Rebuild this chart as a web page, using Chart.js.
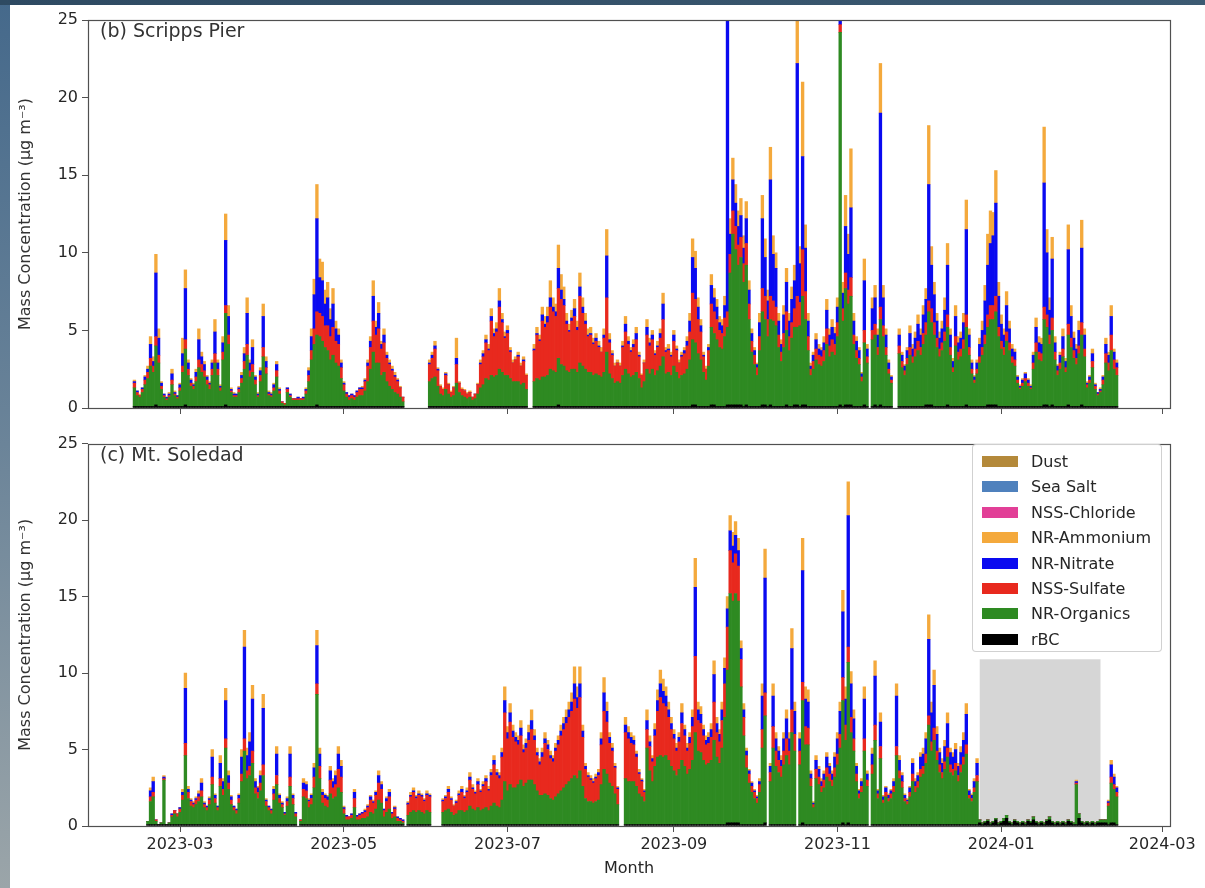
<!DOCTYPE html>
<html>
<head>
<meta charset="utf-8">
<title>PM1 composition – Scripps Pier and Mt. Soledad</title>
<script src="https://cdn.jsdelivr.net/npm/chart.js@4.4.1/dist/chart.umd.min.js"></script>
<style>
  html, body { margin: 0; padding: 0; }
  body {
    position: relative; width: 1205px; height: 888px; overflow: hidden;
    background: linear-gradient(to bottom, #45698b 0%, #6b8499 50%, #9ba5a9 100%);
    font-family: 'DejaVu Sans', sans-serif;
  }
  #topbar { position: absolute; left: 0; top: 0; width: 1205px; height: 5px; background: linear-gradient(to right, #2e4a62, #3c5a72); }
  #figure { position: absolute; left: 10px; top: 5px; width: 1195px; height: 883px; background: #fff; }
  canvas { position: absolute; left: 0; }
  #pier { top: 0; }
  #soledad { top: 430px; }
  #legend {
    position: absolute; left: 972px; top: 444px; width: 190px; height: 208px;
    box-sizing: border-box; border: 1px solid rgba(204, 204, 204, 0.9); border-radius: 4px;
    background: rgba(255, 255, 255, 0.85);
  }
  #legend .row { position: absolute; left: 0; height: 20px; line-height: 20px; font-size: 16px; color: #262626; white-space: nowrap; }
  #legend .swatch { position: absolute; left: 9px; top: 4px; width: 36px; height: 11px; }
  #legend .name { position: absolute; left: 58px; top: 0; }
</style>
</head>
<body>
<div id="topbar"></div>
<div id="figure"></div>
<canvas id="pier" width="1205" height="430"></canvas>
<canvas id="soledad" width="1205" height="458"></canvas>
<div id="legend"></div>
<script>
// daily means, one value per day starting 2023-02-12; null = no data
const START_DATE = '2023-02-12';

const tickDates = ['2023-03-01', '2023-05-01', '2023-07-01', '2023-09-01', '2023-11-01', '2024-01-01', '2024-03-01'];
const tickLabels = ['2023-03', '2023-05', '2023-07', '2023-09', '2023-11', '2024-01', '2024-03'];

// ---- (b) Scripps Pier ----
const pierOrganics = [
  1.2,0.7,0.6,0.9,1.4,1.8,2.6,2.2,3.8,2.8,
  1.1,0.6,0.4,0.6,1.4,0.7,0.5,1.0,2.2,3.6,
  2.0,1.3,1.1,1.6,2.5,2.2,1.9,1.4,1.1,2.0,
  2.8,2.0,1.0,3.0,5.9,4.0,0.9,0.6,0.6,0.9,
  1.5,2.4,3.3,1.9,2.2,1.4,0.6,1.6,3.2,2.1,
  0.7,0.6,1.0,1.9,0.8,0.2,0.1,0.9,0.6,0.4,
  0.4,0.4,0.4,0.4,0.8,1.6,3.0,4.0,4.5,4.5,
  4.2,3.8,3.6,3.0,3.3,2.8,2.6,1.8,1.0,0.6,
  0.4,0.5,0.4,0.6,0.7,0.7,1.0,1.6,2.4,3.5,
  2.8,2.8,2.0,2.2,1.6,1.3,1.1,0.9,0.8,0.6,
  0.3,null,null,null,null,null,null,null,null,null,
  1.6,1.8,1.9,1.3,0.8,0.7,1.1,0.8,0.6,0.7,
  1.5,0.9,0.7,0.6,0.5,0.6,0.4,0.5,0.8,1.2,
  1.4,1.8,1.7,2.0,1.9,2.0,2.4,2.2,2.0,2.0,
  1.8,1.6,1.6,1.6,1.4,1.5,1.1,null,null,1.6,
  1.8,1.7,1.9,1.9,2.0,2.4,2.3,2.2,3.0,2.7,
  2.6,2.3,2.2,2.4,2.4,2.2,2.8,2.6,2.4,2.2,
  2.2,2.0,2.1,2.0,1.9,2.2,3.5,2.1,1.8,1.5,
  1.6,1.5,2.0,2.4,2.1,1.9,2.0,2.2,1.8,1.2,
  1.6,2.4,2.1,2.4,2.0,2.3,2.6,3.2,2.1,2.2,
  2.0,2.6,2.2,1.8,2.0,2.1,2.4,3.0,4.2,4.0,
  3.4,3.0,2.2,1.7,2.6,5.0,4.6,4.3,3.8,3.7,
  4.5,5.0,8.5,11.0,10.0,9.0,9.5,8.0,9.0,5.6,
  3.5,2.7,2.0,3.6,6.0,5.5,4.5,5.5,5.5,5.2,
  3.8,2.9,3.8,4.8,3.6,4.4,5.0,5.0,5.2,7.0,
  5.5,3.6,2.0,2.4,3.0,2.7,2.6,2.9,4.0,3.2,
  3.5,3.3,4.5,24.0,5.5,7.5,6.5,7.0,4.0,3.1,
  2.7,1.6,4.0,2.8,null,4.3,4.5,3.3,5.5,4.5,
  3.3,2.1,1.5,null,null,3.4,2.5,2.0,2.7,3.3,
  2.8,3.2,3.6,3.3,4.0,4.5,6.0,5.3,4.6,3.8,
  3.2,3.6,4.2,5.0,3.3,2.2,3.9,3.0,3.2,3.7,
  5.0,3.3,2.1,1.5,2.1,2.8,3.3,4.0,5.0,5.5,
  5.5,6.0,4.5,3.7,3.3,4.2,3.6,2.8,2.6,1.5,
  1.1,1.3,1.6,1.3,1.1,2.4,3.5,3.0,2.9,5.5,
  5.0,4.0,4.8,3.0,2.0,2.4,3.2,2.2,4.5,3.8,
  3.1,2.7,3.4,4.5,3.2,1.2,1.5,2.5,1.1,0.7,
  0.9,1.4,2.8,2.3,3.6,2.4,2.0
];
const pierSulfate = [
  0.3,0.2,0.1,0.2,0.3,0.4,0.5,0.4,0.6,0.5,
  0.2,0.1,0.1,0.1,0.3,0.1,0.1,0.2,0.4,0.6,
  0.4,0.2,0.2,0.3,0.5,0.5,0.4,0.3,0.3,0.4,
  0.6,0.4,0.2,0.5,0.5,0.6,0.1,0.1,0.1,0.2,
  0.3,0.5,0.7,0.4,0.5,0.3,0.1,0.4,0.6,0.4,
  0.1,0.1,0.2,0.4,0.2,0.1,0.1,0.2,0.1,0.1,
  0.1,0.1,0.1,0.1,0.2,0.4,0.6,1.0,1.5,1.5,
  1.6,1.4,1.6,1.5,1.8,1.4,1.4,0.7,0.4,0.2,
  0.2,0.2,0.2,0.3,0.4,0.4,0.6,1.0,1.4,2.0,
  1.8,2.2,1.7,1.9,1.5,1.4,1.2,1.0,0.8,0.6,
  0.3,null,null,null,null,null,null,null,null,null,
  1.1,1.3,1.8,1.0,0.5,0.4,0.9,0.6,0.3,0.5,
  1.2,0.6,0.4,0.4,0.3,0.3,0.2,0.3,0.6,1.5,
  1.8,2.3,1.9,3.5,2.6,2.8,4.0,3.2,2.4,2.7,
  1.7,1.2,1.4,1.6,1.2,1.4,0.9,null,null,2.0,
  2.8,2.5,3.6,3.2,3.4,4.0,3.8,3.6,4.5,4.2,
  3.9,3.0,2.6,3.1,3.4,2.7,4.3,3.4,2.9,2.3,
  2.4,2.0,2.1,1.8,1.6,2.2,3.5,2.0,1.5,1.1,
  1.2,1.1,1.8,2.4,1.9,1.6,1.8,2.1,1.4,0.8,
  1.2,2.2,1.8,1.9,1.3,1.5,1.8,2.4,1.4,1.4,
  1.2,1.6,1.4,1.0,1.2,1.3,1.5,1.8,3.0,2.8,
  2.2,1.8,1.0,0.7,1.0,1.5,1.4,1.3,1.1,1.0,
  1.2,1.0,1.2,1.5,1.5,1.3,1.3,1.2,1.4,1.0,
  0.7,0.6,0.5,0.9,1.5,1.5,1.1,1.5,1.3,1.2,
  0.8,0.6,0.9,1.2,0.9,1.0,1.2,2.0,1.5,3.0,
  1.8,0.9,0.4,0.5,0.7,0.6,0.6,0.7,1.0,0.7,
  0.8,0.7,0.9,0.5,0.8,1.0,0.9,1.2,0.6,0.5,
  0.4,0.3,0.8,0.4,null,0.6,0.7,0.5,0.8,0.7,
  0.5,0.3,0.2,null,null,0.5,0.4,0.3,0.4,0.5,
  0.4,0.5,0.6,0.5,0.7,0.8,0.7,0.9,0.8,0.6,
  0.5,0.5,0.6,0.8,0.5,0.3,0.6,0.5,0.5,0.6,
  0.8,0.5,0.3,0.2,0.3,0.4,0.5,0.6,0.8,0.9,
  0.9,1.0,0.6,0.5,0.5,0.6,0.5,0.4,0.4,0.2,
  0.1,0.2,0.2,0.2,0.1,0.4,0.6,0.5,0.5,0.8,
  0.8,0.6,0.8,0.5,0.3,0.4,0.5,0.3,0.7,0.6,
  0.5,0.4,0.5,0.8,0.5,0.2,0.2,0.4,0.2,0.1,
  0.1,0.3,0.6,0.5,1.0,0.6,0.5
];
const pierNitrate = [
  0.1,0.1,0.0,0.1,0.2,0.2,0.9,0.3,4.1,1.1,
  0.2,0.1,0.1,0.1,0.4,0.1,0.1,0.2,0.8,3.3,
  0.4,0.2,0.1,0.3,1.3,0.5,0.4,0.2,0.1,0.4,
  1.4,0.4,0.1,0.6,4.2,1.2,0.1,0.1,0.1,0.1,
  0.2,0.5,2.0,0.5,1.1,0.2,0.1,0.3,2.0,0.4,
  0.1,0.1,0.2,0.4,0.1,0.0,0.0,0.1,0.1,0.0,
  0.0,0.1,0.0,0.1,0.1,0.3,0.9,2.2,6.0,2.3,
  2.3,1.4,1.8,1.1,1.5,0.8,0.6,0.3,0.1,0.1,
  0.1,0.1,0.1,0.1,0.1,0.1,0.1,0.2,0.4,1.6,
  0.5,1.0,0.3,0.5,0.2,0.1,0.1,0.1,0.1,0.0,
  0.0,null,null,null,null,null,null,null,null,null,
  0.1,0.2,0.2,0.1,0.0,0.0,0.1,0.0,0.0,0.0,
  0.4,0.0,0.0,0.0,0.0,0.0,0.0,0.0,0.0,0.1,
  0.2,0.2,0.1,0.3,0.2,0.2,0.4,0.2,0.1,0.2,
  0.1,0.0,0.0,0.1,0.0,0.1,0.0,null,null,0.1,
  0.1,0.1,0.4,0.2,0.4,0.6,0.3,0.3,1.3,0.6,
  0.4,0.2,0.1,0.2,0.5,0.2,0.6,0.4,0.2,0.1,
  0.1,0.1,0.2,0.1,0.0,0.2,2.7,0.2,0.1,0.0,
  0.0,0.0,0.1,0.5,0.2,0.1,0.2,0.4,0.1,0.0,
  0.0,0.5,0.2,0.3,0.1,0.1,0.3,1.0,0.1,0.1,
  0.1,0.4,0.1,0.0,0.1,0.2,0.3,0.7,2.3,2.0,
  0.8,0.4,0.1,0.0,0.2,1.2,0.9,0.8,0.5,0.5,
  0.8,19.0,1.3,2.0,1.5,1.2,1.4,1.0,1.6,0.9,
  0.5,0.3,0.2,0.9,4.5,2.5,1.2,7.5,3.0,2.5,
  0.9,0.5,1.2,1.9,1.0,1.5,1.8,15.0,2.5,6.0,
  2.8,1.0,0.2,0.4,0.6,0.4,0.4,0.5,1.2,0.7,
  0.8,0.7,1.0,0.5,1.0,3.0,2.3,4.5,0.9,0.6,
  0.5,0.2,3.2,0.5,null,1.4,1.7,0.8,12.5,1.8,
  0.8,0.4,0.2,null,null,0.7,0.4,0.3,0.5,0.9,
  0.5,0.7,1.1,0.8,1.2,1.5,7.5,2.8,1.8,1.1,
  0.7,0.9,1.4,3.2,0.8,0.4,1.3,0.6,0.7,1.1,
  5.5,0.8,0.4,0.2,0.4,0.8,1.1,2.2,3.2,4.0,
  4.5,6.0,2.0,1.1,0.8,1.7,0.9,0.5,0.5,0.2,
  0.1,0.2,0.3,0.2,0.1,0.5,1.0,0.6,0.6,8.0,
  4.0,1.6,3.8,0.6,0.3,0.5,0.8,0.4,4.8,1.4,
  0.8,0.6,1.0,4.8,0.9,0.1,0.2,0.5,0.1,0.1,
  0.1,0.2,0.6,0.5,1.2,0.5,0.3
];
const pierAmmonium = [
  0.1,0.0,0.1,0.0,0.1,0.2,0.5,0.3,1.2,0.6,
  0.1,0.0,0.0,0.1,0.3,0.1,0.0,0.1,1.0,1.2,
  0.2,0.1,0.1,0.2,0.7,0.3,0.2,0.1,0.1,0.2,
  0.8,0.2,0.1,0.4,1.7,0.7,0.1,0.1,0.0,0.1,
  0.2,0.4,1.0,0.2,0.5,0.1,0.1,0.2,0.8,0.3,
  0.1,0.1,0.1,0.2,0.1,0.0,0.0,0.0,0.0,0.0,
  0.0,0.0,0.0,0.0,0.1,0.2,0.5,1.0,2.2,1.2,
  1.2,0.9,1.0,0.7,1.0,0.5,0.4,0.2,0.1,0.0,
  0.0,0.0,0.0,0.0,0.0,0.1,0.1,0.2,0.3,1.0,
  0.4,0.7,0.2,0.4,0.2,0.2,0.2,0.2,0.1,0.1,
  0.0,null,null,null,null,null,null,null,null,null,
  0.2,0.2,0.3,0.1,0.1,0.1,0.1,0.1,0.1,0.1,
  1.3,0.1,0.1,0.1,0.1,0.1,0.0,0.0,0.1,0.2,
  0.2,0.3,0.3,0.5,0.3,0.4,0.8,0.4,0.3,0.3,
  0.2,0.2,0.2,0.2,0.2,0.2,0.1,null,null,0.3,
  0.4,0.3,0.5,0.5,0.6,1.1,0.6,0.5,1.5,1.0,
  0.8,0.5,0.4,0.5,0.6,0.4,0.9,0.6,0.5,0.4,
  0.4,0.3,0.3,0.3,0.3,0.4,1.7,0.4,0.2,0.2,
  0.2,0.2,0.3,0.5,0.3,0.2,0.3,0.4,0.2,0.1,
  0.2,0.5,0.3,0.3,0.2,0.3,0.3,0.7,0.2,0.3,
  0.2,0.3,0.2,0.2,0.2,0.2,0.3,0.5,1.2,1.1,
  0.6,0.4,0.2,0.2,0.2,0.7,0.6,0.5,0.4,0.4,
  0.6,1.0,1.0,1.4,1.2,1.0,1.1,0.8,1.1,0.6,
  0.3,0.2,0.1,0.6,1.5,1.2,0.7,2.1,1.2,1.0,
  0.5,0.3,0.6,0.9,0.5,0.8,1.0,2.9,1.1,4.8,
  1.5,0.5,0.2,0.2,0.4,0.3,0.2,0.4,0.7,0.4,
  0.5,0.4,0.6,1.0,0.7,2.0,1.3,3.8,0.5,0.3,
  0.2,0.1,1.4,0.3,null,0.7,0.8,0.4,3.2,0.8,
  0.4,0.2,0.1,null,null,0.4,0.2,0.1,0.2,0.5,
  0.3,0.4,0.6,0.4,0.6,0.7,3.8,1.2,0.8,0.5,
  0.4,0.5,0.8,1.4,0.4,0.2,0.7,0.4,0.4,0.6,
  1.9,0.4,0.2,0.1,0.2,0.4,0.6,1.0,2.0,2.1,
  1.5,2.1,0.9,0.6,0.4,0.9,0.5,0.3,0.2,0.1,
  0.1,0.1,0.1,0.1,0.1,0.2,0.6,0.4,0.4,3.6,
  1.5,0.8,1.4,0.4,0.1,0.2,0.5,0.2,1.6,0.7,
  0.4,0.3,0.6,1.8,0.4,0.1,0.1,0.3,0.1,0.0,
  0.1,0.1,0.4,0.2,0.7,0.2,0.2
];
const pierRbc = [
  0.1,0.1,0.1,0.1,0.1,0.1,0.1,0.1,0.2,0.1,
  0.1,0.1,0.1,0.1,0.1,0.1,0.1,0.1,0.1,0.2,
  0.1,0.1,0.1,0.1,0.1,0.1,0.1,0.1,0.1,0.1,
  0.1,0.1,0.1,0.1,0.2,0.1,0.1,0.1,0.1,0.1,
  0.1,0.1,0.1,0.1,0.1,0.1,0.1,0.1,0.1,0.1,
  0.1,0.1,0.1,0.1,0.1,0.1,0.1,0.1,0.1,0.1,
  0.1,0.1,0.1,0.1,0.1,0.1,0.1,0.1,0.2,0.1,
  0.1,0.1,0.1,0.1,0.1,0.1,0.1,0.1,0.1,0.1,
  0.1,0.1,0.1,0.1,0.1,0.1,0.1,0.1,0.1,0.1,
  0.1,0.1,0.1,0.1,0.1,0.1,0.1,0.1,0.1,0.1,
  0.1,null,null,null,null,null,null,null,null,null,
  0.1,0.1,0.1,0.1,0.1,0.1,0.1,0.1,0.1,0.1,
  0.1,0.1,0.1,0.1,0.1,0.1,0.1,0.1,0.1,0.1,
  0.1,0.1,0.1,0.1,0.1,0.1,0.1,0.1,0.1,0.1,
  0.1,0.1,0.1,0.1,0.1,0.1,0.1,null,null,0.1,
  0.1,0.1,0.1,0.1,0.1,0.1,0.1,0.1,0.2,0.1,
  0.1,0.1,0.1,0.1,0.1,0.1,0.1,0.1,0.1,0.1,
  0.1,0.1,0.1,0.1,0.1,0.1,0.1,0.1,0.1,0.1,
  0.1,0.1,0.1,0.1,0.1,0.1,0.1,0.1,0.1,0.1,
  0.1,0.1,0.1,0.1,0.1,0.1,0.1,0.1,0.1,0.1,
  0.1,0.1,0.1,0.1,0.1,0.1,0.1,0.1,0.2,0.2,
  0.1,0.1,0.1,0.1,0.1,0.2,0.2,0.1,0.1,0.1,
  0.1,0.2,0.2,0.2,0.2,0.2,0.2,0.1,0.2,0.1,
  0.1,0.1,0.1,0.1,0.2,0.2,0.1,0.2,0.1,0.1,
  0.1,0.1,0.1,0.2,0.1,0.1,0.2,0.2,0.1,0.2,
  0.2,0.1,0.1,0.1,0.1,0.1,0.1,0.1,0.1,0.1,
  0.1,0.1,0.1,0.2,0.1,0.2,0.2,0.2,0.1,0.1,
  0.1,0.1,0.2,0.1,null,0.1,0.2,0.1,0.2,0.1,
  0.1,0.1,0.1,null,null,0.1,0.1,0.1,0.1,0.1,
  0.1,0.1,0.1,0.1,0.1,0.2,0.2,0.2,0.1,0.1,
  0.1,0.1,0.1,0.2,0.1,0.1,0.1,0.1,0.1,0.1,
  0.2,0.1,0.1,0.1,0.1,0.1,0.1,0.1,0.2,0.2,
  0.2,0.2,0.1,0.1,0.1,0.1,0.1,0.1,0.1,0.1,
  0.1,0.1,0.1,0.1,0.1,0.1,0.1,0.1,0.1,0.2,
  0.2,0.1,0.2,0.1,0.1,0.1,0.1,0.1,0.2,0.1,
  0.1,0.1,0.1,0.2,0.1,0.1,0.1,0.1,0.1,0.1,
  0.1,0.1,0.1,0.1,0.1,0.1,0.1
];
// chloride, sea salt and dust stay below what the bars resolve at either site
const pierChloride = [], pierSeaSalt = [], pierDust = [];

// ---- (c) Mt. Soledad ----
const soledadOrganics = [
  null,null,null,null,null,0.2,1.5,1.8,0.2,0.0,
  0.1,2.9,0.0,0.1,0.5,0.7,0.5,0.8,1.6,4.5,
  1.7,1.2,1.1,1.3,1.5,1.8,1.1,0.9,1.3,2.6,
  1.4,0.9,2.5,1.9,5.0,2.3,1.3,0.9,0.7,1.4,
  2.8,4.8,3.0,3.2,4.0,2.0,1.7,2.2,3.2,1.2,
  0.9,0.7,1.6,2.6,1.4,1.1,0.6,1.2,2.5,1.3,
  0.5,null,0.2,1.8,1.7,1.1,1.3,2.4,8.5,3.0,
  1.4,1.2,1.1,2.0,1.7,1.8,2.4,2.1,0.7,0.3,
  0.3,0.4,1.1,0.3,0.3,0.4,0.4,0.5,0.8,0.7,
  1.0,1.6,1.4,0.5,0.8,1.0,0.4,0.5,0.2,0.2,
  0.1,null,0.6,0.8,0.9,0.8,0.9,0.8,0.7,0.9,
  0.8,null,null,null,null,0.8,0.9,1.0,0.8,0.6,
  0.7,0.9,0.9,0.8,0.9,1.2,1.0,0.9,1.1,0.9,
  1.0,1.1,0.9,1.2,1.4,1.2,1.1,1.6,2.8,2.2,
  2.6,2.4,2.4,2.6,2.9,2.5,2.7,2.9,2.9,2.6,
  2.2,1.9,1.9,2.0,1.9,1.7,1.6,1.8,2.0,2.2,
  2.4,2.6,2.8,3.0,3.2,3.0,3.5,2.5,1.7,1.5,
  1.5,1.4,1.5,1.6,2.6,3.6,3.3,2.7,2.5,2.0,
  1.3,null,null,3.0,2.8,2.8,2.8,2.5,2.0,1.8,
  1.5,5.0,3.5,2.8,3.8,4.4,4.5,4.4,4.5,4.2,
  3.8,3.5,3.2,3.6,4.2,3.8,3.3,3.6,4.2,6.0,
  4.8,4.7,4.2,3.9,4.0,4.2,5.5,4.4,4.0,5.0,
  7.0,10.0,15.0,14.5,15.0,14.5,9.0,5.8,3.7,2.7,
  2.1,1.7,1.4,2.1,5.0,7.0,null,2.8,5.0,3.8,
  3.4,3.1,3.9,4.5,3.9,6.0,4.8,null,3.9,8.0,
  5.2,5.2,2.5,1.1,3.0,2.6,2.1,2.4,3.1,2.8,
  2.5,3.1,3.9,5.0,8.0,5.5,10.5,6.0,4.8,2.8,
  1.7,2.1,4.8,2.5,null,3.3,5.5,1.7,4.3,1.4,
  1.8,1.5,1.7,2.1,4.5,3.0,2.4,1.5,1.3,1.8,
  2.8,2.1,2.4,3.1,3.3,4.0,6.5,4.8,5.5,4.2,
  3.4,3.0,3.6,4.4,3.4,3.2,3.5,2.8,3.4,3.9,
  4.6,1.7,1.5,2.1,2.8,0.2,0.1,0.1,0.1,0.1,
  0.1,0.1,0.1,0.1,0.2,0.2,0.1,0.1,0.1,0.1,
  0.1,0.1,0.1,0.1,0.1,0.2,0.1,0.1,0.1,0.1,
  0.1,0.2,0.1,0.1,0.1,0.1,0.1,0.1,0.1,0.1,
  0.1,2.6,0.3,0.1,0.1,0.1,0.1,0.1,0.1,0.1,
  0.2,0.2,0.2,1.2,2.6,2.2,1.8
];
const soledadSulfate = [
  null,null,null,null,null,0.0,0.3,0.3,0.1,0.0,
  0.0,0.1,0.0,0.0,0.1,0.2,0.2,0.2,0.3,0.8,
  0.4,0.3,0.2,0.3,0.3,0.4,0.2,0.2,0.3,0.5,
  0.3,0.2,0.5,0.4,0.6,0.4,0.3,0.2,0.2,0.3,
  0.5,0.8,0.5,0.6,0.8,0.4,0.4,0.5,0.7,0.3,
  0.2,0.2,0.4,0.6,0.3,0.2,0.1,0.3,0.6,0.4,
  0.2,null,0.1,0.5,0.5,0.4,0.4,0.7,0.7,0.8,
  0.5,0.5,0.5,0.9,0.7,0.8,1.2,1.0,0.3,0.2,
  0.2,0.2,0.6,0.2,0.3,0.3,0.4,0.6,0.8,0.7,
  0.9,1.1,0.9,0.4,0.7,0.8,0.3,0.5,0.2,0.1,
  0.1,null,0.7,1.0,1.2,0.9,1.0,1.0,0.8,1.0,
  1.0,null,null,null,null,0.7,0.8,1.1,0.8,0.6,
  0.7,1.0,1.2,0.9,1.2,1.7,1.3,1.1,1.5,1.2,
  1.5,1.7,1.3,2.0,2.5,2.0,1.9,2.8,4.5,3.4,
  4.1,3.3,3.0,2.6,2.9,2.2,2.3,2.6,3.3,2.9,
  2.3,2.0,2.5,3.3,3.0,2.6,2.5,3.0,3.2,3.6,
  3.8,4.0,4.2,4.4,5.0,4.6,4.8,3.2,1.9,1.6,
  1.4,1.3,1.5,1.6,2.6,3.8,3.4,2.6,2.3,1.7,
  1.0,null,null,3.0,2.8,2.5,2.4,1.9,1.3,1.0,
  0.6,1.2,1.6,1.3,2.0,3.0,3.8,3.5,3.2,2.8,
  2.4,2.1,1.6,1.8,2.4,2.0,1.5,1.7,2.2,5.0,
  2.0,1.9,1.6,1.3,1.3,1.5,2.5,1.6,1.4,1.8,
  2.2,2.8,2.8,2.5,2.6,2.3,1.8,1.2,0.8,0.6,
  0.4,0.4,0.3,0.5,1.2,1.5,null,0.6,1.4,1.0,
  0.8,0.7,0.9,1.1,0.9,1.5,1.1,null,0.9,1.2,
  1.2,1.1,0.5,0.2,0.6,0.5,0.4,0.5,0.6,0.5,
  0.4,0.6,0.7,0.9,1.5,1.0,1.0,1.0,0.8,0.5,
  0.3,0.4,0.8,0.4,null,0.6,1.0,0.3,0.8,0.2,
  0.3,0.2,0.3,0.4,0.6,0.5,0.4,0.2,0.2,0.3,
  0.5,0.4,0.4,0.5,0.5,0.6,0.6,0.6,0.8,0.6,
  0.5,0.4,0.5,0.6,0.5,0.4,0.5,0.4,0.5,0.5,
  0.6,0.2,0.2,0.3,0.4,0.0,0.0,0.0,0.0,0.0,
  0.0,0.0,0.0,0.0,0.0,0.0,0.0,0.0,0.0,0.0,
  0.0,0.0,0.0,0.0,0.0,0.0,0.0,0.0,0.0,0.0,
  0.0,0.0,0.0,0.0,0.0,0.0,0.0,0.0,0.0,0.0,
  0.0,0.1,0.0,0.0,0.0,0.0,0.0,0.0,0.0,0.0,
  0.0,0.0,0.0,0.2,0.4,0.3,0.3
];
const soledadNitrate = [
  null,null,null,null,null,0.0,0.4,0.7,0.0,0.0,
  0.0,0.1,0.0,0.0,0.1,0.0,0.0,0.1,0.2,3.6,
  0.2,0.1,0.1,0.1,0.2,0.5,0.1,0.1,0.1,1.3,
  0.2,0.1,1.0,0.5,2.5,0.5,0.2,0.1,0.1,0.2,
  1.1,6.0,1.0,1.6,3.4,0.4,0.3,0.5,3.7,0.1,
  0.1,0.1,0.3,1.4,0.2,0.1,0.1,0.2,1.5,0.2,
  0.1,null,0.0,0.4,0.4,0.1,0.2,0.6,2.5,0.8,
  0.2,0.2,0.2,0.6,0.4,0.6,1.0,0.7,0.1,0.1,
  0.0,0.1,0.4,0.1,0.1,0.1,0.1,0.1,0.2,0.1,
  0.2,0.5,0.3,0.1,0.2,0.3,0.1,0.1,0.1,0.1,
  0.1,null,0.1,0.1,0.1,0.1,0.1,0.1,0.1,0.1,
  0.1,null,null,null,null,0.1,0.1,0.2,0.1,0.0,
  0.1,0.1,0.2,0.1,0.1,0.2,0.1,0.1,0.2,0.1,
  0.1,0.2,0.1,0.2,0.3,0.2,0.2,0.3,0.8,0.4,
  0.6,0.4,0.3,0.3,0.5,0.2,0.3,0.5,0.6,0.3,
  0.2,0.2,0.3,0.3,0.3,0.2,0.2,0.2,0.3,0.3,
  0.4,0.4,0.5,0.6,1.0,0.7,0.9,0.4,0.2,0.1,
  0.1,0.1,0.1,0.2,0.4,1.2,0.7,0.4,0.2,0.1,
  0.1,null,null,0.5,0.4,0.4,0.3,0.2,0.1,0.1,
  0.1,0.6,0.3,0.2,0.4,0.7,0.9,0.8,0.7,0.5,
  0.4,0.3,0.2,0.3,0.7,0.4,0.2,0.4,0.6,4.5,
  0.7,0.6,0.4,0.3,0.4,0.5,1.8,0.6,0.5,0.7,
  1.0,1.2,1.3,1.1,1.2,1.0,0.7,0.5,0.3,0.2,
  0.2,0.1,0.1,0.2,2.2,7.5,null,0.4,2.0,0.8,
  0.6,0.4,0.8,1.3,0.8,4.0,1.5,null,0.8,7.3,
  1.8,1.7,0.3,0.1,0.6,0.5,0.3,0.4,0.7,0.5,
  0.4,0.7,1.0,1.5,4.3,1.7,8.6,2.2,1.3,0.5,
  0.2,0.3,2.6,0.4,null,0.7,3.2,0.2,1.6,0.2,
  0.3,0.2,0.2,0.3,3.3,0.7,0.4,0.2,0.1,0.3,
  0.7,0.3,0.4,0.8,0.8,1.0,5.0,1.9,2.8,1.1,
  0.8,0.6,1.0,1.6,0.8,0.8,0.9,0.6,0.8,1.1,
  2.0,0.3,0.2,0.4,0.8,0.0,0.0,0.0,0.0,0.0,
  0.0,0.0,0.0,0.0,0.0,0.0,0.0,0.0,0.0,0.0,
  0.0,0.0,0.0,0.0,0.0,0.0,0.0,0.0,0.0,0.0,
  0.0,0.0,0.0,0.0,0.0,0.0,0.0,0.0,0.0,0.0,
  0.0,0.1,0.0,0.0,0.0,0.0,0.0,0.0,0.0,0.0,
  0.0,0.0,0.0,0.1,0.8,0.5,0.3
];
const soledadAmmonium = [
  null,null,null,null,null,0.0,0.2,0.3,0.0,0.0,
  0.0,0.1,0.0,0.0,0.0,0.0,0.0,0.0,0.2,1.0,
  0.2,0.1,0.1,0.1,0.2,0.3,0.1,0.0,0.1,0.5,
  0.1,0.0,0.5,0.2,0.8,0.3,0.1,0.0,0.0,0.1,
  0.5,1.1,0.5,0.6,0.9,0.2,0.1,0.3,0.9,0.1,
  0.0,0.0,0.2,0.5,0.1,0.1,0.0,0.1,0.5,0.1,
  0.0,null,0.0,0.3,0.2,0.1,0.1,0.3,1.0,0.4,
  0.2,0.1,0.1,0.3,0.2,0.3,0.5,0.4,0.1,0.0,
  0.0,0.0,0.2,0.0,0.0,0.0,0.1,0.1,0.1,0.1,
  0.1,0.3,0.2,0.0,0.1,0.2,0.0,0.1,0.0,0.0,
  0.0,null,0.1,0.2,0.2,0.1,0.2,0.1,0.1,0.2,
  0.1,null,null,null,null,0.1,0.1,0.2,0.1,0.1,
  0.1,0.2,0.2,0.1,0.2,0.3,0.2,0.1,0.2,0.1,
  0.2,0.2,0.2,0.2,0.3,0.2,0.2,0.3,0.9,0.4,
  0.6,0.4,0.3,0.3,0.5,0.3,0.3,0.5,0.7,0.4,
  0.3,0.2,0.3,0.4,0.3,0.3,0.2,0.3,0.3,0.4,
  0.4,0.5,0.5,0.6,1.1,0.7,1.1,0.4,0.2,0.2,
  0.2,0.2,0.2,0.2,0.4,1.0,0.6,0.3,0.3,0.2,
  0.1,null,null,0.5,0.4,0.3,0.3,0.2,0.2,0.1,
  0.1,0.7,0.4,0.2,0.4,0.7,0.9,0.8,0.6,0.5,
  0.4,0.3,0.3,0.3,0.6,0.3,0.3,0.3,0.5,1.9,
  0.5,0.5,0.3,0.3,0.3,0.4,0.9,0.4,0.3,0.5,
  0.7,0.8,1.0,0.9,0.9,0.8,0.5,0.4,0.2,0.1,
  0.1,0.1,0.1,0.2,0.8,1.9,null,0.2,0.8,0.4,
  0.3,0.3,0.4,0.6,0.4,1.3,0.6,null,0.4,2.1,
  0.8,0.8,0.2,0.1,0.3,0.2,0.2,0.2,0.3,0.2,
  0.2,0.3,0.4,0.6,1.4,0.8,2.2,0.8,0.6,0.2,
  0.1,0.2,0.8,0.2,null,0.4,1.0,0.1,0.6,0.1,
  0.1,0.1,0.1,0.2,0.8,0.3,0.2,0.1,0.1,0.1,
  0.3,0.2,0.2,0.3,0.4,0.4,1.6,0.7,1.0,0.5,
  0.3,0.3,0.4,0.7,0.3,0.3,0.4,0.2,0.4,0.5,
  0.7,0.1,0.1,0.2,0.3,0.0,0.0,0.0,0.0,0.0,
  0.0,0.0,0.0,0.0,0.0,0.0,0.0,0.0,0.0,0.0,
  0.0,0.0,0.0,0.0,0.0,0.0,0.0,0.0,0.0,0.0,
  0.0,0.0,0.0,0.0,0.0,0.0,0.0,0.0,0.0,0.0,
  0.0,0.1,0.0,0.0,0.0,0.0,0.0,0.0,0.0,0.0,
  0.0,0.0,0.0,0.1,0.3,0.2,0.1
];
const soledadRbc = [
  null,null,null,null,null,0.1,0.1,0.1,0.1,0.1,
  0.1,0.1,0.1,0.1,0.1,0.1,0.1,0.1,0.1,0.1,
  0.1,0.1,0.1,0.1,0.1,0.1,0.1,0.1,0.1,0.1,
  0.1,0.1,0.1,0.1,0.1,0.1,0.1,0.1,0.1,0.1,
  0.1,0.1,0.1,0.1,0.1,0.1,0.1,0.1,0.1,0.1,
  0.1,0.1,0.1,0.1,0.1,0.1,0.1,0.1,0.1,0.1,
  0.1,null,0.1,0.1,0.1,0.1,0.1,0.1,0.1,0.1,
  0.1,0.1,0.1,0.1,0.1,0.1,0.1,0.1,0.1,0.1,
  0.1,0.1,0.1,0.1,0.1,0.1,0.1,0.1,0.1,0.1,
  0.1,0.1,0.1,0.1,0.1,0.1,0.1,0.1,0.1,0.1,
  0.1,null,0.1,0.1,0.1,0.1,0.1,0.1,0.1,0.1,
  0.1,null,null,null,null,0.1,0.1,0.1,0.1,0.1,
  0.1,0.1,0.1,0.1,0.1,0.1,0.1,0.1,0.1,0.1,
  0.1,0.1,0.1,0.1,0.1,0.1,0.1,0.1,0.1,0.1,
  0.1,0.1,0.1,0.1,0.1,0.1,0.1,0.1,0.1,0.1,
  0.1,0.1,0.1,0.1,0.1,0.1,0.1,0.1,0.1,0.1,
  0.1,0.1,0.1,0.1,0.1,0.1,0.1,0.1,0.1,0.1,
  0.1,0.1,0.1,0.1,0.1,0.1,0.1,0.1,0.1,0.1,
  0.1,null,null,0.1,0.1,0.1,0.1,0.1,0.1,0.1,
  0.1,0.1,0.1,0.1,0.1,0.1,0.1,0.1,0.1,0.1,
  0.1,0.1,0.1,0.1,0.1,0.1,0.1,0.1,0.1,0.1,
  0.1,0.1,0.1,0.1,0.1,0.1,0.1,0.1,0.1,0.1,
  0.1,0.2,0.2,0.2,0.2,0.2,0.1,0.1,0.1,0.1,
  0.1,0.1,0.1,0.1,0.1,0.2,null,0.1,0.1,0.1,
  0.1,0.1,0.1,0.1,0.1,0.1,0.1,null,0.1,0.2,
  0.1,0.1,0.1,0.1,0.1,0.1,0.1,0.1,0.1,0.1,
  0.1,0.1,0.1,0.1,0.2,0.1,0.2,0.1,0.1,0.1,
  0.1,0.1,0.1,0.1,null,0.1,0.1,0.1,0.1,0.1,
  0.1,0.1,0.1,0.1,0.1,0.1,0.1,0.1,0.1,0.1,
  0.1,0.1,0.1,0.1,0.1,0.1,0.1,0.1,0.1,0.1,
  0.1,0.1,0.1,0.1,0.1,0.1,0.1,0.1,0.1,0.1,
  0.1,0.1,0.1,0.1,0.1,0.2,0.1,0.2,0.3,0.1,
  0.2,0.4,0.1,0.2,0.3,0.5,0.2,0.1,0.3,0.2,
  0.1,0.2,0.1,0.3,0.2,0.4,0.2,0.1,0.2,0.1,
  0.3,0.4,0.2,0.1,0.2,0.1,0.2,0.1,0.3,0.2,
  0.1,0.1,0.5,0.2,0.1,0.2,0.1,0.2,0.1,0.2,
  0.2,0.2,0.2,0.1,0.2,0.2,0.1
];
const soledadChloride = [], soledadSeaSalt = [], soledadDust = [];

// instrument outage at Mt. Soledad, shaded in grey
const OUTAGE_START = '2023-12-24', OUTAGE_END = '2024-02-07', OUTAGE_TOP = 10.9;

// stacking order, bottom to top
const SPECIES = ['rBC', 'NR-Organics', 'NSS-Sulfate', 'NR-Nitrate', 'NR-Ammonium', 'NSS-Chloride', 'Sea Salt', 'Dust'];
const COLORS = {
  'rBC': '#000000',
  'NR-Organics': '#2e8a22',
  'NSS-Sulfate': '#e8291e',
  'NR-Nitrate': '#0a0af0',
  'NR-Ammonium': '#f4a93c',
  'NSS-Chloride': '#e23f97',
  'Sea Salt': '#4f81bd',
  'Dust': '#b4893a'
};

const TEXT = '#262626';
const AXIS = '#505050';

const dayOf = s => Math.round((Date.parse(s) - Date.parse('2023-01-01')) / 864e5);
const firstDay = dayOf(START_DATE);
const days = pierOrganics.map((_, i) => firstDay + i);
const tickDays = tickDates.map(dayOf);
const X_MIN = 24.7, X_MAX = 427.9;   // axis limits, days after 2023-01-01

Chart.defaults.font.family = "'DejaVu Sans', sans-serif";
Chart.defaults.font.size = 16;
Chart.defaults.color = TEXT;

const frame = {
  id: 'frame',
  afterDraw(chart) {
    const { ctx, chartArea: a } = chart;
    ctx.save();
    ctx.strokeStyle = AXIS;
    ctx.lineWidth = 1.2;
    ctx.strokeRect(Math.round(a.left) + 0.5, Math.round(a.top) + 0.5, Math.round(a.width), Math.round(a.height));
    ctx.restore();
  }
};

function panelLabel(text) {
  return {
    id: 'panelLabel',
    afterDraw(chart) {
      const { ctx, chartArea: a } = chart;
      ctx.save();
      ctx.font = "19px 'DejaVu Sans', sans-serif";
      ctx.fillStyle = '#333';
      ctx.textBaseline = 'middle';
      ctx.fillText(text, a.left + 12, a.top + 12);
      ctx.restore();
    }
  };
}

const outage = {
  id: 'outage',
  beforeDatasetsDraw(chart) {
    const { ctx, scales: { x, y } } = chart;
    const x0 = x.getPixelForValue(dayOf(OUTAGE_START));
    const x1 = x.getPixelForValue(dayOf(OUTAGE_END));
    const y0 = y.getPixelForValue(OUTAGE_TOP);
    ctx.save();
    ctx.fillStyle = '#d6d6d6';
    ctx.fillRect(x0, y0, x1 - x0, y.getPixelForValue(0) - y0);
    ctx.restore();
  }
};

function drawPanel(id, series, opt) {
  const datasets = SPECIES.map((name, k) => ({
    label: name,
    data: series[k],
    backgroundColor: COLORS[name],
    borderWidth: 0,
    barPercentage: 1,
    categoryPercentage: 1
  }));
  return new Chart(document.getElementById(id), {
    type: 'bar',
    data: { labels: days, datasets },
    options: {
      responsive: false,
      animation: false,
      layout: { padding: opt.padding },
      plugins: { legend: { display: false }, tooltip: { enabled: false } },
      scales: {
        x: {
          type: 'linear',
          stacked: true,
          offset: false,
          min: X_MIN,
          max: X_MAX,
          afterBuildTicks: s => { s.ticks = tickDays.map(v => ({ value: v })); },
          afterFit: s => { s.height = opt.xHeight; },
          grid: { offset: false, drawOnChartArea: false, drawTicks: true, tickLength: 6, color: AXIS },
          border: { display: false },
          ticks: {
            autoSkip: false, maxRotation: 0, padding: 3, color: TEXT,
            callback: v => opt.dates ? tickLabels[tickDays.indexOf(v)] : ''
          },
          title: { display: opt.dates, text: 'Month', color: TEXT, padding: { top: 0, bottom: 10 } }
        },
        y: {
          stacked: true,
          min: 0,
          max: 25,
          afterFit: s => { s.width = 76; },
          grid: { drawOnChartArea: false, drawTicks: true, tickLength: 6, color: AXIS },
          border: { display: false },
          ticks: { stepSize: 5, padding: 4, color: TEXT },
          title: { display: true, text: 'Mass Concentration (μg m⁻³)', color: '#333', padding: { top: 4, bottom: 0 } }
        }
      }
    },
    plugins: opt.plugins
  });
}

drawPanel('pier',
  [pierRbc, pierOrganics, pierSulfate, pierNitrate, pierAmmonium, pierChloride, pierSeaSalt, pierDust],
  { padding: { left: 12, right: 35, top: 20, bottom: 0 }, xHeight: 22, dates: false,
    plugins: [frame, panelLabel('(b) Scripps Pier')] });

const soledad = drawPanel('soledad',
  [soledadRbc, soledadOrganics, soledadSulfate, soledadNitrate, soledadAmmonium, soledadChloride, soledadSeaSalt, soledadDust],
  { padding: { left: 12, right: 35, top: 8, bottom: 0 }, xHeight: 62, dates: true,
    plugins: [outage, frame, panelLabel('(c) Mt. Soledad')] });

// legend inside the lower panel, top species first
const legend = document.getElementById('legend');
soledad.data.datasets.slice().reverse().forEach((ds, i) => {
  const row = document.createElement('div');
  row.className = 'row';
  row.style.top = (7 + i * 25.4) + 'px';
  row.innerHTML = '<span class="swatch" style="background:' + ds.backgroundColor + '"></span><span class="name">' + ds.label + '</span>';
  row.style.width = '100%';
  legend.appendChild(row);
});
</script>
</body>
</html>
